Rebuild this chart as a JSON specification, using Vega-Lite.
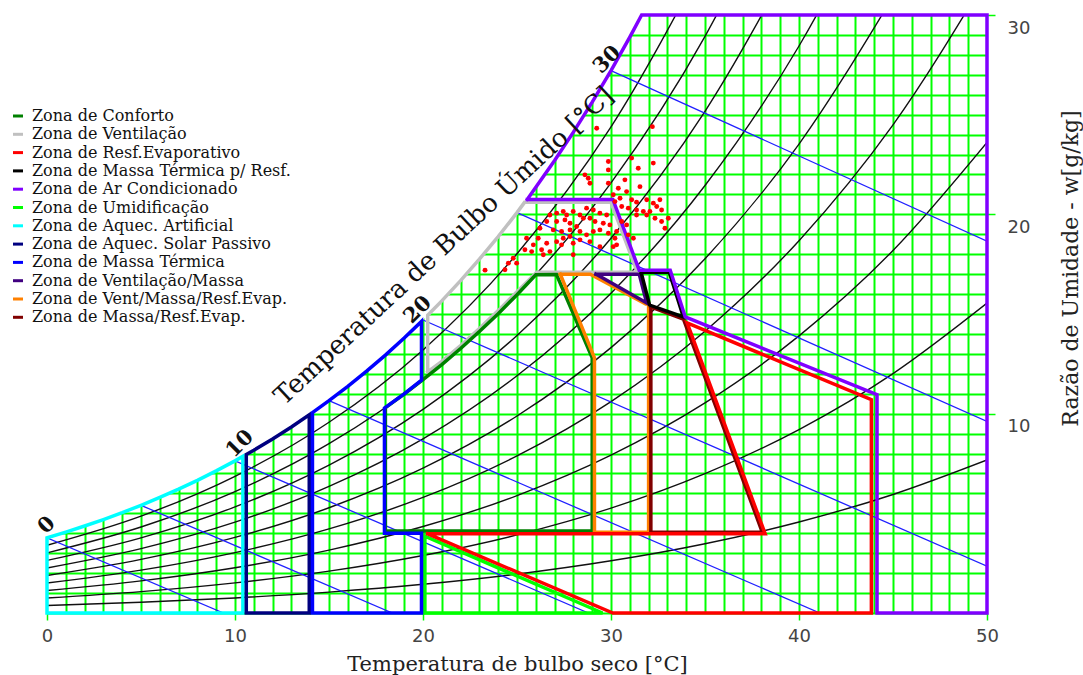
{
  "$schema": "https://vega.github.io/schema/vega-lite/v6.json",
  "width": 940,
  "height": 598,
  "autosize": {"type": "none"},
  "padding": {"left": 47, "top": 15, "right": 96, "bottom": 62},
  "background": "white",
  "config": {"view": {"stroke": null}},
  "datasets": {
    "sat": [
      {"x": 0, "y": 3.775}, {"x": 1, "y": 4.06}, {"x": 2, "y": 4.364}, {"x": 3, "y": 4.689}, {"x": 4, "y": 5.034},
      {"x": 5, "y": 5.403}, {"x": 6, "y": 5.796}, {"x": 7, "y": 6.213}, {"x": 8, "y": 6.657}, {"x": 9, "y": 7.129},
      {"x": 10, "y": 7.632}, {"x": 11, "y": 8.165}, {"x": 12, "y": 8.732}, {"x": 13, "y": 9.334}, {"x": 14, "y": 9.973},
      {"x": 15, "y": 10.651}, {"x": 16, "y": 11.369}, {"x": 17, "y": 12.131}, {"x": 18, "y": 12.938}, {"x": 19, "y": 13.794},
      {"x": 20, "y": 14.699}, {"x": 21, "y": 15.659}, {"x": 22, "y": 16.674}, {"x": 23, "y": 17.749}, {"x": 24, "y": 18.885},
      {"x": 25, "y": 20.088}, {"x": 26, "y": 21.359}, {"x": 27, "y": 22.703}, {"x": 28, "y": 24.124}, {"x": 29, "y": 25.625},
      {"x": 30, "y": 27.211}, {"x": 31, "y": 28.888}, {"x": 31.63, "y": 30}
    ],
    "rh": [
      {"k": "r1", "x": 0, "y": 0.376}, {"k": "r1", "x": 5, "y": 0.536}, {"k": "r1", "x": 10, "y": 0.755}, {"k": "r1", "x": 15, "y": 1.049}, {"k": "r1", "x": 20, "y": 1.439}, {"k": "r1", "x": 25, "y": 1.952}, {"k": "r1", "x": 30, "y": 2.618}, {"k": "r1", "x": 35, "y": 3.475}, {"k": "r1", "x": 40, "y": 4.567}, {"k": "r1", "x": 45, "y": 5.946}, {"k": "r1", "x": 50, "y": 7.676},
      {"k": "r2", "x": 0, "y": 0.751}, {"k": "r2", "x": 5, "y": 1.073}, {"k": "r2", "x": 10, "y": 1.512}, {"k": "r2", "x": 15, "y": 2.101}, {"k": "r2", "x": 20, "y": 2.885}, {"k": "r2", "x": 25, "y": 3.916}, {"k": "r2", "x": 30, "y": 5.258}, {"k": "r2", "x": 35, "y": 6.989}, {"k": "r2", "x": 40, "y": 9.201}, {"k": "r2", "x": 45, "y": 12.008}, {"k": "r2", "x": 50, "y": 15.544},
      {"k": "r3", "x": 0, "y": 1.128}, {"k": "r3", "x": 5, "y": 1.611}, {"k": "r3", "x": 10, "y": 2.27}, {"k": "r3", "x": 15, "y": 3.157}, {"k": "r3", "x": 20, "y": 4.338}, {"k": "r3", "x": 25, "y": 5.893}, {"k": "r3", "x": 30, "y": 7.921}, {"k": "r3", "x": 35, "y": 10.542}, {"k": "r3", "x": 40, "y": 13.904}, {"k": "r3", "x": 45, "y": 18.187}, {"k": "r3", "x": 50, "y": 23.611},
      {"k": "r4", "x": 0, "y": 1.505}, {"k": "r4", "x": 5, "y": 2.15}, {"k": "r4", "x": 10, "y": 3.031}, {"k": "r4", "x": 15, "y": 4.217}, {"k": "r4", "x": 20, "y": 5.798}, {"k": "r4", "x": 25, "y": 7.882}, {"k": "r4", "x": 30, "y": 10.606}, {"k": "r4", "x": 35, "y": 14.136}, {"k": "r4", "x": 40, "y": 18.678}, {"k": "r4", "x": 45, "y": 24.488}, {"k": "r4", "x": 50, "y": 31.885},
      {"k": "r5", "x": 0, "y": 1.882}, {"k": "r5", "x": 5, "y": 2.69}, {"k": "r5", "x": 10, "y": 3.793}, {"k": "r5", "x": 15, "y": 5.28}, {"k": "r5", "x": 20, "y": 7.264}, {"k": "r5", "x": 25, "y": 9.884}, {"k": "r5", "x": 30, "y": 13.315}, {"k": "r5", "x": 35, "y": 17.771}, {"k": "r5", "x": 40, "y": 23.524}, {"k": "r5", "x": 45, "y": 30.914},
      {"k": "r6", "x": 0, "y": 2.26}, {"k": "r6", "x": 5, "y": 3.231}, {"k": "r6", "x": 10, "y": 4.557}, {"k": "r6", "x": 15, "y": 6.347}, {"k": "r6", "x": 20, "y": 8.737}, {"k": "r6", "x": 25, "y": 11.899}, {"k": "r6", "x": 30, "y": 16.046}, {"k": "r6", "x": 35, "y": 21.447}, {"k": "r6", "x": 40, "y": 28.444}, {"k": "r6", "x": 45, "y": 37.469},
      {"k": "r7", "x": 0, "y": 2.638}, {"k": "r7", "x": 5, "y": 3.772}, {"k": "r7", "x": 10, "y": 5.323}, {"k": "r7", "x": 15, "y": 7.417}, {"k": "r7", "x": 20, "y": 10.217}, {"k": "r7", "x": 25, "y": 13.926}, {"k": "r7", "x": 30, "y": 18.801}, {"k": "r7", "x": 35, "y": 25.167}, {"k": "r7", "x": 40, "y": 33.439},
      {"k": "r8", "x": 0, "y": 3.017}, {"k": "r8", "x": 5, "y": 4.315}, {"k": "r8", "x": 10, "y": 6.091}, {"k": "r8", "x": 15, "y": 8.492}, {"k": "r8", "x": 20, "y": 11.704}, {"k": "r8", "x": 25, "y": 15.967}, {"k": "r8", "x": 30, "y": 21.58}, {"k": "r8", "x": 35, "y": 28.93}, {"k": "r8", "x": 40, "y": 38.51},
      {"k": "r9", "x": 0, "y": 3.396}, {"k": "r9", "x": 5, "y": 4.859}, {"k": "r9", "x": 10, "y": 6.86}, {"k": "r9", "x": 15, "y": 9.569}, {"k": "r9", "x": 20, "y": 13.198}, {"k": "r9", "x": 25, "y": 18.021}, {"k": "r9", "x": 30, "y": 24.384}, {"k": "r9", "x": 35, "y": 32.736}
    ],
    "wb": [
      {"k": "w0", "x": 0, "y": 3.775}, {"k": "w0", "x": 9.385, "y": 0},
      {"k": "w5", "x": 5, "y": 5.403}, {"k": "w5", "x": 18.37, "y": 0},
      {"k": "w10", "x": 10, "y": 7.632}, {"k": "w10", "x": 28.8, "y": 0},
      {"k": "w15", "x": 15, "y": 10.651}, {"k": "w15", "x": 41.11, "y": 0},
      {"k": "w20", "x": 20, "y": 14.699}, {"k": "w20", "x": 50, "y": 2.35},
      {"k": "w25", "x": 25, "y": 20.088}, {"k": "w25", "x": 50, "y": 9.61},
      {"k": "w30", "x": 30, "y": 27.211}, {"k": "w30", "x": 50, "y": 18.65}
    ],
    "zones": [
      {"z": "Zona de Ventilação", "o": 1, "x": 20.25, "y": 12.1}, {"z": "Zona de Ventilação", "o": 2, "x": 20.25, "y": 14.94}, {"z": "Zona de Ventilação", "o": 3, "x": 21, "y": 15.659}, {"z": "Zona de Ventilação", "o": 4, "x": 22, "y": 16.674}, {"z": "Zona de Ventilação", "o": 5, "x": 23, "y": 17.749}, {"z": "Zona de Ventilação", "o": 6, "x": 24, "y": 18.885}, {"z": "Zona de Ventilação", "o": 7, "x": 25, "y": 20.088}, {"z": "Zona de Ventilação", "o": 8, "x": 25.4, "y": 20.6}, {"z": "Zona de Ventilação", "o": 9, "x": 30.0, "y": 20.6}, {"z": "Zona de Ventilação", "o": 10, "x": 31.4, "y": 17.1}, {"z": "Zona de Ventilação", "o": 11, "x": 26.05, "y": 17.1}, {"z": "Zona de Ventilação", "o": 12, "x": 25, "y": 16.12}, {"z": "Zona de Ventilação", "o": 13, "x": 24, "y": 15.17}, {"z": "Zona de Ventilação", "o": 14, "x": 23, "y": 14.27}, {"z": "Zona de Ventilação", "o": 15, "x": 22, "y": 13.42}, {"z": "Zona de Ventilação", "o": 16, "x": 21, "y": 12.62}, {"z": "Zona de Ventilação", "o": 17, "x": 20.25, "y": 12.1},
      {"z": "Zona de Conforto", "o": 1, "x": 18, "y": 4.12}, {"z": "Zona de Conforto", "o": 2, "x": 18, "y": 10.308}, {"z": "Zona de Conforto", "o": 3, "x": 19, "y": 10.987}, {"z": "Zona de Conforto", "o": 4, "x": 20, "y": 11.704}, {"z": "Zona de Conforto", "o": 5, "x": 21, "y": 12.464}, {"z": "Zona de Conforto", "o": 6, "x": 22, "y": 13.268}, {"z": "Zona de Conforto", "o": 7, "x": 23, "y": 14.119}, {"z": "Zona de Conforto", "o": 8, "x": 24, "y": 15.017}, {"z": "Zona de Conforto", "o": 9, "x": 25, "y": 15.967}, {"z": "Zona de Conforto", "o": 10, "x": 26, "y": 16.971}, {"z": "Zona de Conforto", "o": 11, "x": 27.1, "y": 16.98}, {"z": "Zona de Conforto", "o": 12, "x": 29, "y": 12.8}, {"z": "Zona de Conforto", "o": 13, "x": 29, "y": 4.12}, {"z": "Zona de Conforto", "o": 14, "x": 18, "y": 4.12},
      {"z": "Zona de Umidificação", "o": 1, "x": 20.1, "y": 0}, {"z": "Zona de Umidificação", "o": 2, "x": 20.1, "y": 3.85}, {"z": "Zona de Umidificação", "o": 3, "x": 29.55, "y": 0}, {"z": "Zona de Umidificação", "o": 4, "x": 20.1, "y": 0},
      {"z": "Zona de Aquec. Artificial", "o": 1, "x": 0, "y": 0}, {"z": "Zona de Aquec. Artificial", "o": 2, "x": 0, "y": 3.775}, {"z": "Zona de Aquec. Artificial", "o": 3, "x": 1, "y": 4.06}, {"z": "Zona de Aquec. Artificial", "o": 4, "x": 2, "y": 4.364}, {"z": "Zona de Aquec. Artificial", "o": 5, "x": 3, "y": 4.689}, {"z": "Zona de Aquec. Artificial", "o": 6, "x": 4, "y": 5.034}, {"z": "Zona de Aquec. Artificial", "o": 7, "x": 5, "y": 5.403}, {"z": "Zona de Aquec. Artificial", "o": 8, "x": 6, "y": 5.796}, {"z": "Zona de Aquec. Artificial", "o": 9, "x": 7, "y": 6.213}, {"z": "Zona de Aquec. Artificial", "o": 10, "x": 8, "y": 6.657}, {"z": "Zona de Aquec. Artificial", "o": 11, "x": 9, "y": 7.129}, {"z": "Zona de Aquec. Artificial", "o": 12, "x": 10, "y": 7.632}, {"z": "Zona de Aquec. Artificial", "o": 13, "x": 10.42, "y": 7.86}, {"z": "Zona de Aquec. Artificial", "o": 14, "x": 10.42, "y": 0}, {"z": "Zona de Aquec. Artificial", "o": 15, "x": 0, "y": 0},
      {"z": "Zona de Aquec. Solar Passivo", "o": 1, "x": 10.6, "y": 0}, {"z": "Zona de Aquec. Solar Passivo", "o": 2, "x": 10.6, "y": 7.95}, {"z": "Zona de Aquec. Solar Passivo", "o": 3, "x": 11, "y": 8.165}, {"z": "Zona de Aquec. Solar Passivo", "o": 4, "x": 12, "y": 8.732}, {"z": "Zona de Aquec. Solar Passivo", "o": 5, "x": 13, "y": 9.334}, {"z": "Zona de Aquec. Solar Passivo", "o": 6, "x": 13.95, "y": 9.94}, {"z": "Zona de Aquec. Solar Passivo", "o": 7, "x": 13.95, "y": 0}, {"z": "Zona de Aquec. Solar Passivo", "o": 8, "x": 10.6, "y": 0},
      {"z": "Zona de Massa Térmica", "o": 1, "x": 14.12, "y": 0}, {"z": "Zona de Massa Térmica", "o": 2, "x": 14.12, "y": 10.05}, {"z": "Zona de Massa Térmica", "o": 3, "x": 15, "y": 10.651}, {"z": "Zona de Massa Térmica", "o": 4, "x": 16, "y": 11.369}, {"z": "Zona de Massa Térmica", "o": 5, "x": 17, "y": 12.131}, {"z": "Zona de Massa Térmica", "o": 6, "x": 18, "y": 12.938}, {"z": "Zona de Massa Térmica", "o": 7, "x": 19, "y": 13.794}, {"z": "Zona de Massa Térmica", "o": 8, "x": 19.92, "y": 14.63}, {"z": "Zona de Massa Térmica", "o": 9, "x": 19.92, "y": 11.68}, {"z": "Zona de Massa Térmica", "o": 10, "x": 19, "y": 10.99}, {"z": "Zona de Massa Térmica", "o": 11, "x": 17.95, "y": 10.28}, {"z": "Zona de Massa Térmica", "o": 12, "x": 17.95, "y": 4.0}, {"z": "Zona de Massa Térmica", "o": 13, "x": 19.92, "y": 4.0}, {"z": "Zona de Massa Térmica", "o": 14, "x": 19.92, "y": 0}, {"z": "Zona de Massa Térmica", "o": 15, "x": 14.12, "y": 0},
      {"z": "Zona de Vent/Massa/Resf.Evap.", "o": 1, "x": 27.3, "y": 17.0}, {"z": "Zona de Vent/Massa/Resf.Evap.", "o": 2, "x": 28.9, "y": 17.0}, {"z": "Zona de Vent/Massa/Resf.Evap.", "o": 3, "x": 31.85, "y": 15.5}, {"z": "Zona de Vent/Massa/Resf.Evap.", "o": 4, "x": 32.0, "y": 15.5}, {"z": "Zona de Vent/Massa/Resf.Evap.", "o": 5, "x": 32.0, "y": 4.05}, {"z": "Zona de Vent/Massa/Resf.Evap.", "o": 6, "x": 29.12, "y": 4.05}, {"z": "Zona de Vent/Massa/Resf.Evap.", "o": 7, "x": 29.12, "y": 12.8}, {"z": "Zona de Vent/Massa/Resf.Evap.", "o": 8, "x": 27.3, "y": 17.0},
      {"z": "Zona de Massa/Resf.Evap.", "o": 1, "x": 32.12, "y": 15.35}, {"z": "Zona de Massa/Resf.Evap.", "o": 2, "x": 33.85, "y": 14.75}, {"z": "Zona de Massa/Resf.Evap.", "o": 3, "x": 38.05, "y": 4.05}, {"z": "Zona de Massa/Resf.Evap.", "o": 4, "x": 32.12, "y": 4.05}, {"z": "Zona de Massa/Resf.Evap.", "o": 5, "x": 32.12, "y": 15.35},
      {"z": "Zona de Resf.Evaporativo", "o": 1, "x": 20.25, "y": 3.97}, {"z": "Zona de Resf.Evaporativo", "o": 2, "x": 38.2, "y": 3.97}, {"z": "Zona de Resf.Evaporativo", "o": 3, "x": 34.05, "y": 14.55}, {"z": "Zona de Resf.Evaporativo", "o": 4, "x": 43.85, "y": 10.7}, {"z": "Zona de Resf.Evaporativo", "o": 5, "x": 43.85, "y": 0}, {"z": "Zona de Resf.Evaporativo", "o": 6, "x": 30.1, "y": 0}, {"z": "Zona de Resf.Evaporativo", "o": 7, "x": 20.25, "y": 3.97},
      {"z": "Zona de Ventilação/Massa", "o": 1, "x": 29.2, "y": 17.0}, {"z": "Zona de Ventilação/Massa", "o": 2, "x": 31.5, "y": 17.0}, {"z": "Zona de Ventilação/Massa", "o": 3, "x": 31.9, "y": 15.55}, {"z": "Zona de Ventilação/Massa", "o": 4, "x": 29.2, "y": 17.0},
      {"z": "Zona de Massa Térmica p/ Resf.", "o": 1, "x": 31.6, "y": 17.1}, {"z": "Zona de Massa Térmica p/ Resf.", "o": 2, "x": 33.1, "y": 17.1}, {"z": "Zona de Massa Térmica p/ Resf.", "o": 3, "x": 33.85, "y": 14.85}, {"z": "Zona de Massa Térmica p/ Resf.", "o": 4, "x": 32.05, "y": 15.45}, {"z": "Zona de Massa Térmica p/ Resf.", "o": 5, "x": 31.6, "y": 17.1},
      {"z": "Zona de Ar Condicionado", "o": 1, "x": 25.55, "y": 20.75}, {"z": "Zona de Ar Condicionado", "o": 2, "x": 30.1, "y": 20.75}, {"z": "Zona de Ar Condicionado", "o": 3, "x": 31.5, "y": 17.2}, {"z": "Zona de Ar Condicionado", "o": 4, "x": 33.15, "y": 17.2}, {"z": "Zona de Ar Condicionado", "o": 5, "x": 33.95, "y": 14.85}, {"z": "Zona de Ar Condicionado", "o": 6, "x": 44.15, "y": 10.95}, {"z": "Zona de Ar Condicionado", "o": 7, "x": 44.15, "y": 0}, {"z": "Zona de Ar Condicionado", "o": 8, "x": 50, "y": 0}, {"z": "Zona de Ar Condicionado", "o": 9, "x": 50, "y": 30}, {"z": "Zona de Ar Condicionado", "o": 10, "x": 31.63, "y": 30}, {"z": "Zona de Ar Condicionado", "o": 11, "x": 31, "y": 28.888}, {"z": "Zona de Ar Condicionado", "o": 12, "x": 30, "y": 27.211}, {"z": "Zona de Ar Condicionado", "o": 13, "x": 29, "y": 25.625}, {"z": "Zona de Ar Condicionado", "o": 14, "x": 28, "y": 24.124}, {"z": "Zona de Ar Condicionado", "o": 15, "x": 27, "y": 22.703}, {"z": "Zona de Ar Condicionado", "o": 16, "x": 26, "y": 21.359}, {"z": "Zona de Ar Condicionado", "o": 17, "x": 25.55, "y": 20.75}
    ],
    "pts": [
      {"x": 29.24, "y": 24.32}, {"x": 32.2, "y": 24.4}, {"x": 31.1, "y": 22.82}, {"x": 32.25, "y": 22.57}, {"x": 29.86, "y": 22.65}, {"x": 29.86, "y": 22.23}, {"x": 31.45, "y": 22.31},
      {"x": 28.61, "y": 21.98}, {"x": 28.79, "y": 21.81}, {"x": 28.88, "y": 21.56}, {"x": 29.86, "y": 21.56}, {"x": 30.74, "y": 21.73}, {"x": 31.54, "y": 21.39}, {"x": 30.39, "y": 21.31}, {"x": 30.83, "y": 21.14},
      {"x": 30.12, "y": 20.98}, {"x": 30.48, "y": 20.81}, {"x": 30.21, "y": 20.64}, {"x": 31.1, "y": 20.73}, {"x": 31.36, "y": 20.61}, {"x": 31.9, "y": 20.73}, {"x": 32.25, "y": 20.56}, {"x": 32.6, "y": 20.73},
      {"x": 30.57, "y": 20.39}, {"x": 30.92, "y": 20.31}, {"x": 31.36, "y": 20.22}, {"x": 31.72, "y": 20.14}, {"x": 32.07, "y": 20.14}, {"x": 32.43, "y": 20.39}, {"x": 32.69, "y": 20.22}, {"x": 31.36, "y": 19.97},
      {"x": 31.9, "y": 19.97}, {"x": 32.34, "y": 19.8}, {"x": 32.69, "y": 19.64}, {"x": 32.87, "y": 19.3}, {"x": 33.05, "y": 19.8}, {"x": 30.57, "y": 19.64}, {"x": 30.83, "y": 19.47}, {"x": 30.3, "y": 19.14},
      {"x": 30.92, "y": 18.97}, {"x": 31.19, "y": 18.8}, {"x": 30.3, "y": 18.47},
      {"x": 26.75, "y": 19.97}, {"x": 27.11, "y": 20.06}, {"x": 27.46, "y": 20.14}, {"x": 27.64, "y": 19.97}, {"x": 27.99, "y": 20.14}, {"x": 28.35, "y": 19.97}, {"x": 28.7, "y": 20.31}, {"x": 29.06, "y": 20.22},
      {"x": 29.41, "y": 20.06}, {"x": 29.77, "y": 19.97}, {"x": 28.53, "y": 19.8}, {"x": 28.88, "y": 19.8}, {"x": 29.15, "y": 19.64}, {"x": 29.59, "y": 19.55}, {"x": 29.94, "y": 19.47}, {"x": 27.55, "y": 19.72},
      {"x": 27.82, "y": 19.55}, {"x": 27.11, "y": 19.64}, {"x": 26.58, "y": 19.64}, {"x": 26.22, "y": 19.3}, {"x": 26.93, "y": 19.22}, {"x": 27.37, "y": 19.14}, {"x": 27.82, "y": 19.22}, {"x": 28.17, "y": 19.39},
      {"x": 28.35, "y": 19.14}, {"x": 28.7, "y": 18.97}, {"x": 29.06, "y": 19.14}, {"x": 29.41, "y": 19.22}, {"x": 29.86, "y": 19.05}, {"x": 27.82, "y": 18.89}, {"x": 27.46, "y": 18.8}, {"x": 27.11, "y": 18.63},
      {"x": 26.58, "y": 18.55}, {"x": 26.13, "y": 18.8}, {"x": 25.87, "y": 18.47}, {"x": 25.51, "y": 18.8}, {"x": 25.42, "y": 18.22}, {"x": 25.78, "y": 18.13}, {"x": 26.31, "y": 18.22}, {"x": 26.75, "y": 18.13},
      {"x": 27.37, "y": 18.47}, {"x": 27.99, "y": 18.55}, {"x": 28.35, "y": 18.72}, {"x": 28.88, "y": 18.63}, {"x": 29.41, "y": 18.38}, {"x": 30.12, "y": 18.38}, {"x": 30.21, "y": 18.8}, {"x": 27.99, "y": 17.97},
      {"x": 26.4, "y": 17.97}, {"x": 24.8, "y": 17.8}, {"x": 24.54, "y": 17.55}, {"x": 24.98, "y": 17.55}, {"x": 24.36, "y": 17.22}, {"x": 23.3, "y": 17.2}
    ],
    "lbl": [
      {"x": 0, "y": 4.4, "t": "0"}, {"x": 10.27, "y": 8.48, "t": "10"}, {"x": 19.73, "y": 15.2, "t": "20"}, {"x": 29.8, "y": 27.75, "t": "30"}
    ],
    "ttl": [
      {"x": 21.12, "y": 18.41, "t": "Temperatura de Bulbo Úmido [°C]"}
    ]
  },
  "encoding": {
    "x": {
      "field": "x", "type": "quantitative",
      "scale": {"domain": [0, 50], "nice": false, "zero": false},
      "axis": {
        "values": [0,1,2,3,4,5,6,7,8,9,10,11,12,13,14,15,16,17,18,19,20,21,22,23,24,25,26,27,28,29,30,31,32,33,34,35,36,37,38,39,40,41,42,43,44,45,46,47,48,49,50],
        "grid": true, "gridColor": "#00ff00", "gridWidth": 2,
        "gridOpacity": {"condition": {"test": "datum.value == 0 || datum.value == 50", "value": 0}, "value": 1},
        "domain": false,
        "tickColor": "#00ff00", "tickSize": 7, "tickWidth": 1.5,
        "tickOpacity": {"condition": {"test": "datum.value % 10 != 0", "value": 0}, "value": 1},
        "labelExpr": "datum.value % 10 == 0 ? datum.label : ''",
        "labelFont": "DejaVu Sans", "labelFontSize": 18, "labelColor": "#444", "labelPadding": 7,
        "labelFlush": false, "labelOverlap": false,
        "title": "Temperatura de bulbo seco [°C]", "titleFont": "DejaVu Serif", "titleFontSize": 21,
        "titleFontWeight": "normal", "titleColor": "#222", "titlePadding": 8
      }
    },
    "y": {
      "field": "y", "type": "quantitative",
      "scale": {"domain": [0, 30], "nice": false, "zero": false},
      "axis": {
        "orient": "right",
        "values": [0,1,2,3,4,5,6,7,8,9,10,11,12,13,14,15,16,17,18,19,20,21,22,23,24,25,26,27,28,29,30],
        "grid": true, "gridColor": "#00ff00", "gridWidth": 2,
        "gridOpacity": {"condition": {"test": "datum.value == 30", "value": 0}, "value": 1},
        "domain": false,
        "tickColor": "#00ff00", "tickSize": 8, "tickWidth": 1.5,
        "tickOpacity": {"condition": {"test": "datum.value % 10 != 0 || datum.value == 0", "value": 0}, "value": 1},
        "labelExpr": "datum.value % 10 == 0 && datum.value > 0 ? datum.label : ''",
        "labelFont": "DejaVu Sans", "labelFontSize": 18, "labelColor": "#444", "labelPadding": 12,
        "labelOffset": 13, "labelAlign": "left", "labelBaseline": "middle",
        "labelFlush": false, "labelOverlap": false,
        "title": "Razão de Umidade - w[g/kg]", "titleFont": "DejaVu Serif", "titleFontSize": 22,
        "titleFontWeight": "normal", "titleColor": "#222", "titleAngle": 270,
        "titleX": 83, "titleY": 253, "titleAlign": "center", "titleBaseline": "middle"
      }
    }
  },
  "layer": [
    {
      "data": {"name": "sat"},
      "mark": {"type": "area", "color": "white", "clip": true, "interpolate": "monotone"},
      "encoding": {"y2": {"datum": 30}}
    },
    {
      "data": {"name": "rh"},
      "mark": {"type": "line", "color": "#111", "strokeWidth": 1.4, "clip": true, "interpolate": "monotone"},
      "encoding": {"detail": {"field": "k"}}
    },
    {
      "data": {"name": "wb"},
      "mark": {"type": "line", "color": "#2020ff", "strokeWidth": 1.3, "clip": true},
      "encoding": {"detail": {"field": "k"}}
    },
    {
      "data": {"name": "zones"},
      "mark": {"type": "line", "strokeWidth": 3.5, "strokeJoin": "miter", "strokeCap": "square"},
      "encoding": {
        "order": {"field": "o", "type": "quantitative"},
        "color": {
          "field": "z", "type": "nominal",
          "scale": {
            "domain": ["Zona de Conforto", "Zona de Ventilação", "Zona de Resf.Evaporativo", "Zona de Massa Térmica p/ Resf.", "Zona de Ar Condicionado", "Zona de Umidificação", "Zona de Aquec. Artificial", "Zona de Aquec. Solar Passivo", "Zona de Massa Térmica", "Zona de Ventilação/Massa", "Zona de Vent/Massa/Resf.Evap.", "Zona de Massa/Resf.Evap."],
            "range": ["#008000", "#c0c0c0", "#ff0000", "#000000", "#8000ff", "#00ff00", "#00ffff", "#000080", "#0000ff", "#400080", "#ff8000", "#800000"]
          },
          "legend": {
            "orient": "none", "legendX": -37, "legendY": 93, "title": null,
            "symbolType": "stroke", "symbolStrokeWidth": 3, "symbolSize": 100,
            "labelFont": "DejaVu Serif", "labelFontSize": 16, "labelColor": "#111",
            "labelLimit": 400, "rowPadding": 2.3, "labelOffset": 6
          }
        }
      }
    },
    {
      "data": {"name": "pts"},
      "mark": {"type": "point", "filled": true, "color": "#ff0000", "size": 24, "opacity": 1}
    },
    {
      "data": {"name": "lbl"},
      "mark": {"type": "text", "font": "DejaVu Serif", "fontSize": 21, "fontWeight": "bold", "angle": 315, "color": "#111", "align": "center", "baseline": "middle"},
      "encoding": {"text": {"field": "t"}}
    },
    {
      "data": {"name": "ttl"},
      "mark": {"type": "text", "font": "DejaVu Serif", "fontSize": 26, "angle": 317, "color": "#111", "align": "center", "baseline": "middle"},
      "encoding": {"text": {"field": "t"}}
    }
  ]
}
